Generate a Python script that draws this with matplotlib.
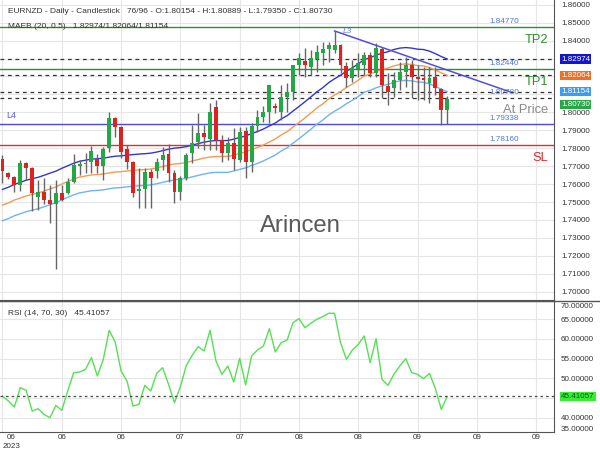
import numpy as np
import matplotlib
matplotlib.use("Agg")
import matplotlib.pyplot as plt
import matplotlib.transforms as mtransforms
from matplotlib.transforms import Bbox, TransformedBbox

plt.rcParams['font.family'] = ['Liberation Sans', 'DejaVu Sans']

# ---- data (EURNZD daily) ----
opens = [1.7740, 1.7662, 1.7639, 1.7595, 1.7718, 1.7690, 1.7528, 1.7556, 1.7511, 1.7489,
         1.7550, 1.7550, 1.7612, 1.7701, 1.7712, 1.7723, 1.7740, 1.7701, 1.7801, 1.7969,
         1.7918, 1.7796, 1.7723, 1.7561, 1.7573, 1.7667, 1.7673, 1.7734, 1.7768, 1.7662,
         1.7556, 1.7634, 1.7773, 1.7835, 1.7885, 1.7851, 1.8030, 1.7846, 1.7773, 1.7829,
         1.7734, 1.7896, 1.7723, 1.7924, 1.7974, 1.8002, 1.8035, 1.8002, 1.8086, 1.8114,
         1.8264, 1.8286, 1.8253, 1.8298, 1.8331, 1.8353, 1.8348, 1.8376, 1.8259, 1.8192,
         1.8242, 1.8264, 1.8320, 1.8220, 1.8353, 1.8147, 1.8136, 1.8180, 1.8225, 1.8264,
         1.8197, 1.8192, 1.8164, 1.8197, 1.8130, 1.80154]
highs = [1.7762, 1.7667, 1.7645, 1.7734, 1.7723, 1.7695, 1.7623, 1.7634, 1.7595, 1.7623,
         1.7595, 1.7634, 1.7768, 1.7734, 1.7773, 1.7812, 1.7768, 1.7807, 1.8002, 1.7974,
         1.7924, 1.7818, 1.7728, 1.7690, 1.7690, 1.7684, 1.7745, 1.7807, 1.7824, 1.7679,
         1.7645, 1.7773, 1.7929, 1.7996, 1.7929, 1.8052, 1.8069, 1.7874, 1.7863, 1.7913,
         1.7918, 1.7918, 1.7941, 1.8013, 1.8035, 1.8153, 1.8052, 1.8153, 1.8164, 1.8264,
         1.8331, 1.8359, 1.8348, 1.8376, 1.8392, 1.8392, 1.8454, 1.8381, 1.8281, 1.8292,
         1.8331, 1.8337, 1.8337, 1.8387, 1.8364, 1.8220, 1.8225, 1.8281, 1.8309, 1.8292,
         1.8264, 1.8253, 1.8253, 1.8253, 1.8136, 1.80889]
lows = [1.7606, 1.7628, 1.7556, 1.7561, 1.7623, 1.7450, 1.7455, 1.7489, 1.7383, 1.7126,
        1.7506, 1.7545, 1.7606, 1.7651, 1.7662, 1.7662, 1.7662, 1.7623, 1.7779, 1.7863,
        1.7745, 1.7684, 1.7528, 1.7467, 1.7467, 1.7467, 1.7634, 1.7679, 1.7612, 1.7494,
        1.7511, 1.7623, 1.7718, 1.7801, 1.7790, 1.7790, 1.7790, 1.7723, 1.7734, 1.7679,
        1.7723, 1.7634, 1.7667, 1.7890, 1.7946, 1.7941, 1.7996, 1.7957, 1.8002, 1.8069,
        1.8208, 1.8197, 1.8208, 1.8225, 1.8264, 1.8281, 1.8331, 1.8220, 1.8141, 1.8169,
        1.8197, 1.8208, 1.8197, 1.8197, 1.8080, 1.8041, 1.8086, 1.8125, 1.8141, 1.8080,
        1.8069, 1.8069, 1.8052, 1.8097, 1.7929, 1.79350]
closes = [1.7673, 1.7639, 1.7595, 1.7718, 1.7690, 1.7550, 1.7556, 1.7511, 1.7489, 1.7550,
          1.7511, 1.7612, 1.7706, 1.7712, 1.7718, 1.7784, 1.7701, 1.7796, 1.7969, 1.7918,
          1.7779, 1.7723, 1.7550, 1.7573, 1.7667, 1.7634, 1.7723, 1.7762, 1.7662, 1.7556,
          1.7634, 1.7762, 1.7829, 1.7885, 1.7863, 1.8002, 1.7846, 1.7773, 1.7829, 1.7740,
          1.7890, 1.7723, 1.7924, 1.7974, 1.8002, 1.8153, 1.8024, 1.8086, 1.8114, 1.8264,
          1.8303, 1.8264, 1.8303, 1.8337, 1.8353, 1.8376, 1.8376, 1.8264, 1.8192, 1.8247,
          1.8275, 1.8320, 1.8220, 1.8359, 1.8153, 1.8114, 1.8180, 1.8225, 1.8264, 1.8197,
          1.8186, 1.8180, 1.8192, 1.8136, 1.8013, 1.80730]

# middle line of the MA envelope (20), envelope width 0.5 %
ma_mid = [1.7483, 1.7495, 1.7511, 1.7522, 1.7534, 1.7542, 1.7550, 1.7561, 1.7573, 1.7584,
          1.7600, 1.7614, 1.7628, 1.7639, 1.7645, 1.7651, 1.7653, 1.7656, 1.7662, 1.7667,
          1.7669, 1.7673, 1.7676, 1.7679, 1.7681, 1.7684, 1.7690, 1.7698, 1.7706, 1.7712,
          1.7715, 1.7720, 1.7729, 1.7737, 1.7745, 1.7751, 1.7754, 1.7754, 1.7754, 1.7762,
          1.7771, 1.7779, 1.7793, 1.7804, 1.7818, 1.7835, 1.7851, 1.7874, 1.7892, 1.7918,
          1.7943, 1.7969, 1.7996, 1.8024, 1.8047, 1.8075, 1.8097, 1.8116, 1.8139, 1.8158,
          1.8180, 1.8203, 1.8214, 1.8228, 1.8239, 1.8247, 1.8259, 1.8267, 1.8270, 1.8267,
          1.8261, 1.8259, 1.8250, 1.8236, 1.8220, 1.82064]
env_pct = 0.5

rsi = [45.51, 44.24, 42.71, 47.63, 46.95, 41.69, 42.29, 40.85, 40.00, 43.14,
       41.86, 46.78, 51.44, 51.61, 52.29, 55.25, 50.59, 54.83, 62.20, 59.24,
       51.86, 49.32, 42.97, 43.39, 48.22, 46.78, 51.27, 52.71, 48.47, 43.81,
       47.88, 53.31, 55.85, 58.05, 56.95, 62.20, 54.41, 51.02, 53.14, 49.07,
       55.08, 48.31, 55.68, 57.20, 58.22, 62.63, 56.70, 59.07, 59.75, 64.15,
       65.17, 62.88, 63.98, 65.00, 65.68, 66.53, 66.53, 59.07, 54.83, 57.20,
       58.64, 60.76, 53.98, 60.08, 49.75, 48.22, 51.02, 53.14, 55.00, 51.44,
       51.02, 49.92, 51.27, 47.37, 42.12, 45.41]

date_pos = [0, 10, 20, 30, 40, 50, 60, 70, 80, 90]
date_lab = ['06', '06', '06', '07', '07', '08', '08', '09', '09', '09']

tp2, tp1, l4, sl, lvl_at = 1.84770, 1.82440, 1.79338, 1.78160, 1.80780
maeb_up, maeb_mid, maeb_lo, last_close = 1.82974, 1.82064, 1.81154, 1.80730
rsi_last = 45.41057
l3_x = [56, 85.6]
l3_y = [1.8454, 1.8114]

# ---- figure ----
W, H = 600, 450
fig = plt.figure(figsize=(6, 4.5), dpi=100)
ax1 = fig.add_axes([0, 150 / H, 554 / W, 300 / H])
ax2 = fig.add_axes([0, 18 / H, 554 / W, 131 / H])

x = np.arange(len(closes))
o = np.array(opens); c = np.array(closes)
hi = np.array(highs); lo = np.array(lows)
xlim = (-0.42, 93.0)

# candles
up = c >= o
col = np.where(up, '#22a845', '#e0221f')
ax1.vlines(x, lo, hi, color='#666666', lw=1, zorder=3)
body = np.maximum(np.abs(c - o), 0.00025)
ax1.bar(x, body, bottom=np.minimum(o, c), width=0.66, color=col, zorder=4)

# envelope
mid = np.array(ma_mid)
ax1.plot(x, mid * (1 + env_pct / 100), color='#3535d0', lw=1, zorder=2)
ax1.plot(x, mid, color='#f49a55', lw=1, zorder=2)
ax1.plot(x, mid * (1 - env_pct / 100), color='#6eb4f2', lw=1, zorder=2)

# level lines
ax1.axhline(tp2, color='#2f8f2f', lw=1, zorder=1)
ax1.axhline(tp1, color='#2f8f2f', lw=1, zorder=1)
ax1.axhline(l4, color='#4a4ae0', lw=1, zorder=1)
ax1.axhline(sl, color='#d83232', lw=1, zorder=1)
for v in [maeb_up, maeb_mid, maeb_lo, lvl_at]:
    ax1.axhline(v, color='#333333', lw=0.9, ls=(0, (3, 3)), zorder=1)
ax1.plot(l3_x, l3_y, color='#5050dc', lw=1.1, zorder=2)

ax1.set_xlim(*xlim)
ax1.set_ylim(1.69535, 1.86266)
yt = np.round(np.arange(1.70, 1.8601, 0.01), 2)
ax1.set_yticks(yt)
# 1.81 and 1.82 sit under the value boxes
ax1.set_yticklabels(['' if v in (1.81, 1.82) else f'{v:.5f}' for v in yt])
ax1.set_xticks(date_pos)
ax1.set_xticklabels([])
ax1.yaxis.tick_right()
ax1.tick_params(axis='both', length=0, labelsize=5.8, labelcolor='#333333', pad=5)
ax1.grid(True, color='#e6e6e6', lw=0.8)
ax1.set_axisbelow(True)
for s in ['left', 'top']:
    ax1.spines[s].set_visible(False)
for s in ['right', 'bottom']:
    ax1.spines[s].set_color('#555555')

blend1 = mtransforms.blended_transform_factory(ax1.transAxes, ax1.transData)
# level value labels
for v in [tp2, tp1, lvl_at, l4, sl]:
    ax1.annotate(f'{v:.5f}', xy=(519 / 554, v), xycoords=blend1, xytext=(0, 2),
                 textcoords='offset pixels', ha='right', va='bottom',
                 fontsize=5.9, color='#4d78d8', annotation_clip=False)
for txt, v, cl, dy in [('TP2', tp2, '#2f8f2f', -16), ('TP1', tp1, '#2f8f2f', -16),
                       ('At Price', lvl_at, '#8a8a8a', -15), ('SL', sl, '#e02828', -16)]:
    ax1.annotate(txt, xy=(548 / 554, v), xycoords=blend1, xytext=(0, dy),
                 textcoords='offset pixels', ha='right', va='baseline',
                 fontsize=9.3, color=cl, annotation_clip=False)
ax1.annotate('L4', xy=(6 / 554, l4), xycoords=blend1, xytext=(0, 6),
             textcoords='offset pixels', ha='left', va='baseline', fontsize=6.5, color='#5a5ae0')
ax1.annotate('L3', xy=(l3_x[0], l3_y[0]), xytext=(8, -2), textcoords='offset pixels',
             ha='left', va='baseline', fontsize=6, color='#6a7ae0', style='italic')

# value boxes on the price scale
for v, fc, dy in [(maeb_up, '#1414d2', 0), (maeb_mid, '#f07023', 0),
                  (maeb_lo, '#3d9cf0', 0), (last_close, '#25a845', -5)]:
    ax1.annotate(f'{v:.5f}', xy=(561 / 554, v), xycoords=blend1, xytext=(0, dy),
                 textcoords='offset pixels', ha='left', va='center', fontsize=5.8,
                 color='white', annotation_clip=False,
                 bbox=dict(boxstyle='square,pad=0.15', fc=fc, ec='none'))

# ---- RSI panel ----
ax2.plot(x, rsi, color='#55e055', lw=1)
ax2.axhline(rsi_last, color='#444444', lw=0.9, ls=(0, (2, 2.5)))
ax2.set_xlim(*xlim)
ax2.set_ylim(36.37, 69.65)
ax2.set_yticks([40, 45, 50, 55, 60, 65])
ax2.set_yticklabels(['40.00000', '', '50.00000', '55.00000', '60.00000', '65.00000'])
ax2.yaxis.tick_right()
ax2.set_xticks(date_pos)
ax2.set_xticklabels([''] + date_lab[1:])
ax2.tick_params(axis='both', length=0, labelsize=5.8, labelcolor='#333333')
ax2.tick_params(axis='y', pad=5)
ax2.tick_params(axis='x', pad=1.5)
ax2.grid(True, color='#e6e6e6', lw=0.8)
ax2.set_axisbelow(True)
ax2.spines['left'].set_visible(False)
for s in ['right', 'bottom', 'top']:
    ax2.spines[s].set_color('#555555')

blend2 = mtransforms.blended_transform_factory(ax2.transAxes, ax2.transData)
ax2.annotate(f'{rsi_last:.5f}', xy=(561 / 554, rsi_last), xycoords=blend2,
             ha='left', va='center', fontsize=5.8, color='#1b4d1b', annotation_clip=False,
             bbox=dict(boxstyle='square,pad=0.15', fc='#33ee33', ec='none'))

fig.text(561 / W, 1 - 306.7 / H, '70.00000', ha='left', va='center', fontsize=5.8, color='#333333')
t35 = fig.text(561 / W, 1 - 429.3 / H, '35.00000', ha='left', va='center', fontsize=5.8, color='#333333')
t35.set_clip_box(TransformedBbox(Bbox([[0, 18 / H], [1, 149 / H]]), fig.transFigure))
t35.set_clip_on(True)

# separator across the full width
fig.add_artist(plt.Line2D([0, 1], [1 - 300.5 / H] * 2, color='#555555', lw=1, transform=fig.transFigure))

# first date label and year
fig.text(7 / W, 1 - 439 / H, date_lab[0], ha='left', va='baseline', fontsize=5.8, color='#333333')
fig.text(2.7 / W, 1 - 447.5 / H, '2023', ha='left', va='baseline', fontsize=5.8, color='#333333')

# header texts
fig.text(8 / W, 1 - 13.3 / H,
         'EURNZD - Daily - Candlestick   76/96 - O:1.80154 - H:1.80889 - L:1.79350 - C:1.80730',
         ha='left', va='baseline', fontsize=6, color='#333333')
fig.text(8 / W, 1 - 27.5 / H, 'MAEB (20, 0.5)   1.82974/1.82064/1.81154',
         ha='left', va='baseline', fontsize=6, color='#333333')
fig.text(8 / W, 1 - 315 / H, 'RSI (14, 70, 30)   45.41057',
         ha='left', va='baseline', fontsize=6, color='#333333')

fig.text(300 / W, 1 - 232 / H, 'Arincen', ha='center', va='baseline', fontsize=17.2, color='#5a5a5a')

fig.savefig('out.png', dpi=100)
